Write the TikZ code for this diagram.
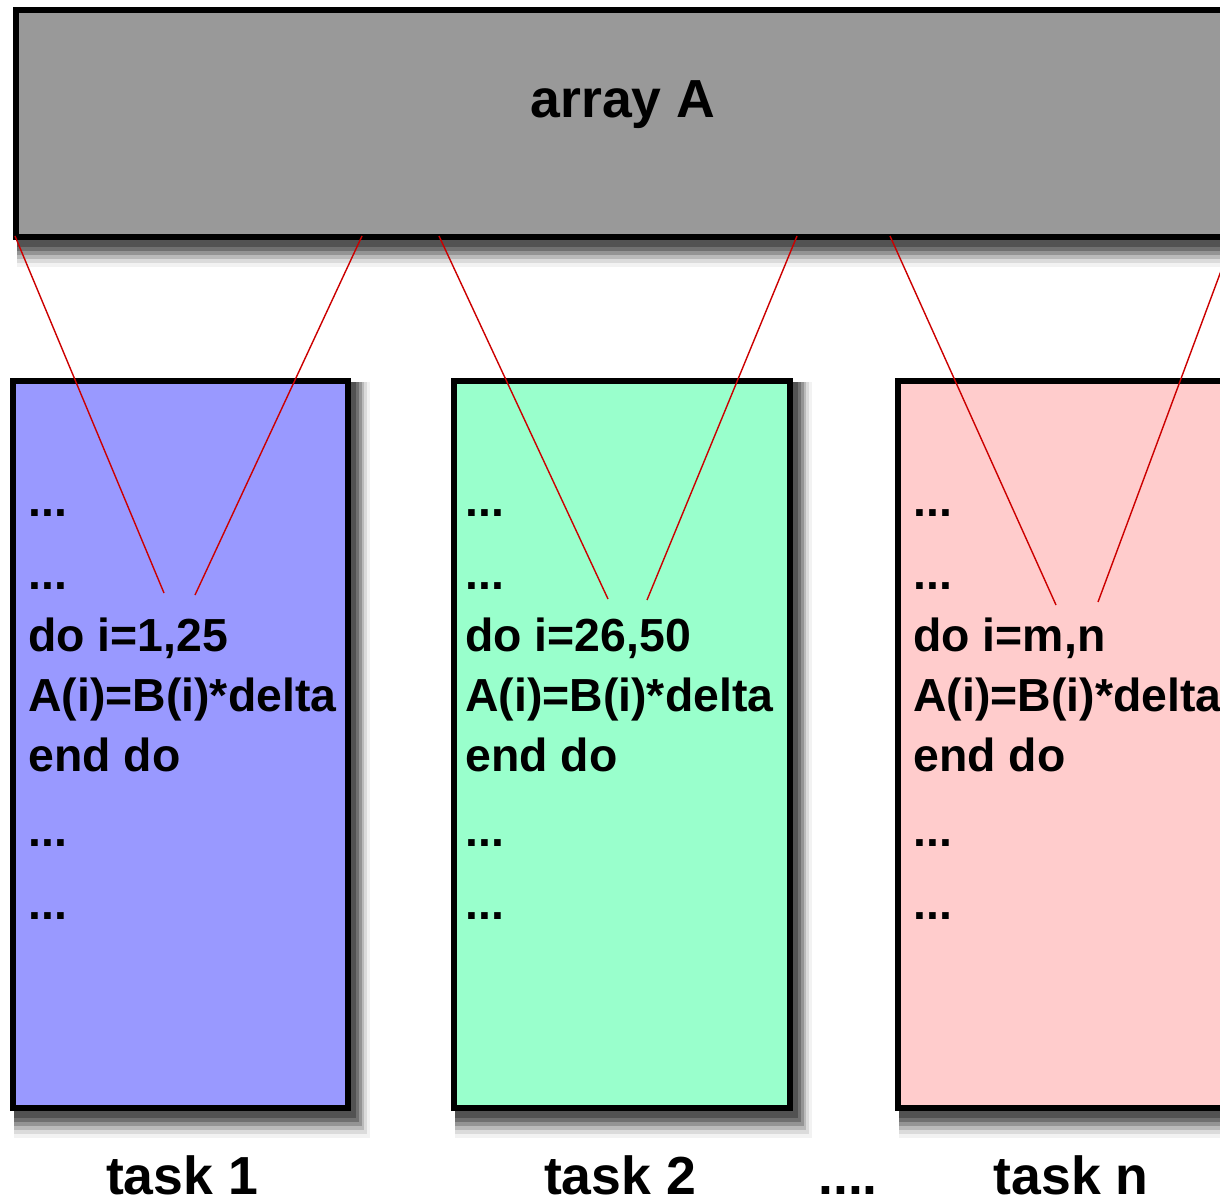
\documentclass[tikz,border=0pt]{standalone}
\usepackage{fontspec}
\setmainfont{Liberation Sans}

\definecolor{arraygray}{HTML}{999999}
\definecolor{taskblue}{HTML}{9999FF}
\definecolor{taskgreen}{HTML}{99FFCC}
\definecolor{taskpink}{HTML}{FFCCCC}
\definecolor{mapred}{HTML}{CC0000}

% 右下方的灰色阴影（外框坐标）
\newcommand{\dropshade}[4]{%
  \foreach \d/\g in {27/95,23/86,19/73,15/58,11/44,7/32}
    \fill[white!\g!black] (#1+4,#2+4) rectangle (#3+0.7*\d,#4+\d);}

\begin{document}
\begin{tikzpicture}[x=0.02cm, y=-0.02cm,
    boxline/.style={line width=3.4pt},
    codetext/.style={anchor=base west, inner sep=0pt, font=\fontsize{26.4}{30}\selectfont\bfseries},
    labeltext/.style={anchor=base, inner sep=0pt, font=\fontsize{30.5}{36}\selectfont\bfseries},
    mapline/.style={mapred, line width=0.8pt}]
    % 画布
    \clip (0,0) rectangle (1220,1199);
    \fill[white] (0,0) rectangle (1220,1199);

    % 数组 A
    \dropshade{13}{7}{1250}{240}
    \draw[boxline, fill=arraygray] (16,10) rectangle (1250,237);
    \node[labeltext] (arrayA) at (623,118) {array A};

    % 三个任务框
    \dropshade{10}{378}{351}{1111}
    \dropshade{451}{378}{793}{1111}
    \dropshade{895}{378}{1250}{1111}
    \draw[boxline, fill=taskblue] (13,381) rectangle (348,1108);
    \draw[boxline, fill=taskgreen] (454,381) rectangle (790,1108);
    \draw[boxline, fill=taskpink] (898,381) rectangle (1250,1108);

    % 框内的代码
    \foreach \tx/\rng/\nm in {28/{1,25}/one, 465/{26,50}/two, 913/{m,n}/three} {
        \node[codetext] (dotsa-\nm) at (\tx,516) {...};
        \node[codetext] (dotsb-\nm) at (\tx,589) {...};
        \node[codetext] (loop-\nm) at (\tx,651) {do i=\rng};
        \node[codetext] (body-\nm) at (\tx,711) {A(i)=B(i)*delta};
        \node[codetext] (end-\nm) at (\tx,771) {end do};
        \node[codetext] (dotsc-\nm) at (\tx,846) {...};
        \node[codetext] (dotsd-\nm) at (\tx,919) {...};
    }

    % 任务名称
    \node[labeltext] (task1) at (182,1194) {task 1};
    \node[labeltext] (task2) at (620,1194) {task 2};
    \node[labeltext] (taskdots) at (848,1194) {....};
    \node[labeltext] (taskn) at (1071,1194) {task n};

    % 数组各段的端点
    \coordinate (a1) at (15,236);
    \coordinate (a2) at (362,236);
    \coordinate (a3) at (439,236);
    \coordinate (a4) at (797,236);
    \coordinate (a5) at (890,236);
    \coordinate (a6) at (1234,236);
    \coordinate (t1l) at (164,593);
    \coordinate (t1r) at (195,595);
    \coordinate (t2l) at (608,599);
    \coordinate (t2r) at (647,600);
    \coordinate (t3l) at (1056,605);
    \coordinate (t3r) at (1098,602);

    % 红色映射线
    \draw[mapline] (a1) -- (t1l);
    \draw[mapline] (a2) -- (t1r);
    \draw[mapline] (a3) -- (t2l);
    \draw[mapline] (a4) -- (t2r);
    \draw[mapline] (a5) -- (t3l);
    \draw[mapline] (a6) -- (t3r);
\end{tikzpicture}
\end{document}
